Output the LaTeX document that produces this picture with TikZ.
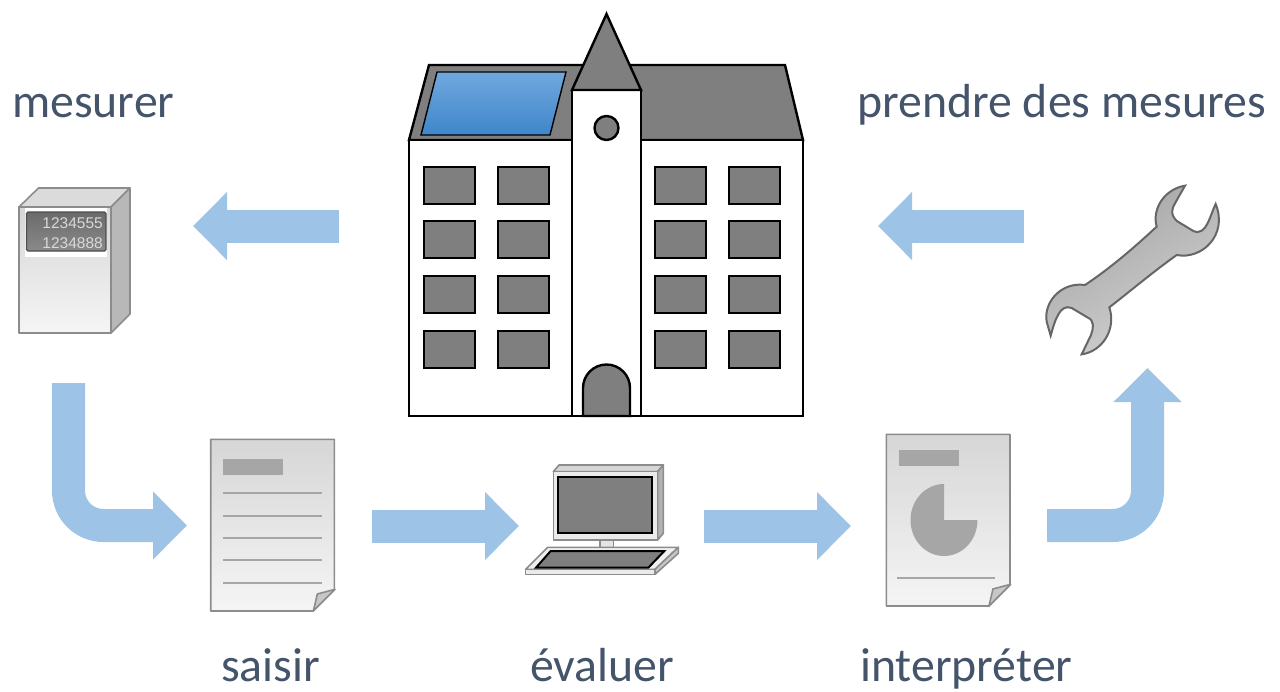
\documentclass[tikz,border=0pt]{standalone}
\usepackage{fontspec}
\setmainfont{Carlito}
\newfontfamily\digitfont{Liberation Sans}
\usetikzlibrary{arrows.meta}
\definecolor{flowblue}{HTML}{9DC3E6}
\definecolor{labelblue}{HTML}{44546A}
\definecolor{roofgrey}{HTML}{7F7F7F}
\definecolor{inkgrey}{HTML}{A6A6A6}
\definecolor{edgegrey}{HTML}{8C8C8C}
\definecolor{panelhigh}{HTML}{70A8DE}
\definecolor{panellow}{HTML}{3F86CB}
\tikzset{
  flow/.style={draw=flowblue, line width=33pt, rounded corners=35pt,
    -{Triangle[length=34pt,width=66pt]}},
  caption/.style={anchor=base west, text=labelblue, font=\fontsize{47.8}{54}\selectfont, inner sep=0pt},
  wall/.style={draw=black, line width=2.4pt, line join=miter},
  window/.style={wall, fill=roofgrey},
  device/.style={draw=edgegrey, line width=1.6pt, line join=round},
  digits/.style={anchor=east, text=black!15, inner sep=0pt, font=\digitfont\fontsize{15.5}{16}\selectfont},
  doc page/.pic={
    \draw[device, top color=black!16, bottom color=black!4]
      (0,0) -- (371,0) -- (371,452) -- (308,515) -- (0,515) -- cycle;
    \draw[device, fill=black!22] (308,515) -- (320,464) -- (373,450) -- cycle;
  }
}
\begin{document}
\begin{tikzpicture}[x=1pt,y=-1pt]
  \useasboundingbox (0,0) rectangle (1280,691);
  % labels
  \node[caption] (mesurer) at (12,117) {mesurer};
  \node[caption] (mesures) at (857,117) {prendre des mesures};
  \node[caption] (saisir) at (221,681) {saisir};
  \node[caption] (evaluer) at (530,681) {évaluer};
  \node[caption] (interpreter) at (860,681) {interpréter};
  % flow arrows
  \coordinate (building in) at (339,226);
  \coordinate (meter in) at (193,226);
  \coordinate (meter out) at (68.5,383);
  \coordinate (sheet in) at (187,525.5);
  \coordinate (sheet out) at (372,526);
  \coordinate (computer in) at (519,526);
  \coordinate (computer out) at (704,526);
  \coordinate (report in) at (851,526);
  \coordinate (report out) at (1047,525.5);
  \coordinate (wrench in) at (1147.5,368);
  \coordinate (wrench out) at (1024,226);
  \coordinate (building out) at (878,226);
  \draw[flow] (building in) -- (meter in);
  \draw[flow] (meter out) |- (sheet in);
  \draw[flow] (sheet out) -- (computer in);
  \draw[flow] (computer out) -- (report in);
  \draw[flow] (report out) -| (wrench in);
  \draw[flow] (wrench out) -- (building out);
  % building
  \draw[wall, fill=roofgrey] (409,140) -- (429,65) -- (785,65) -- (803,140) -- cycle;
  \draw[draw=black, line width=1.4pt, top color=panelhigh, bottom color=panellow]
    (421,135) -- (437,72) -- (566,72) -- (550,135) -- cycle;
  \draw[wall, fill=white] (409,140) rectangle (803,416);
  \foreach \x in {424,498,655,729} {
    \foreach \y in {167,221,276,331} {
      \draw[window] (\x,\y) rectangle ++(51,37);
    }
  }
  \draw[wall, fill=white] (572,90) rectangle (641,416);
  \draw[wall, fill=roofgrey] (572,90) -- (606.5,14) -- (641,90) -- cycle;
  \draw[wall, fill=roofgrey] (606.5,128) circle[radius=12];
  \draw[wall, fill=roofgrey] (583,416) -- (583,388) arc[start angle=180, end angle=360, radius=23.5] -- (630,416) -- cycle;
  % meter
  \draw[device, fill=black!14] (19,207) -- (38.5,188) -- (130,188) -- (111,207) -- cycle;
  \draw[device, fill=black!28] (111,207) -- (130,188) -- (130,314) -- (111,333) -- cycle;
  \draw[device, top color=black!16, bottom color=black!4] (19,207) rectangle (111,333);
  \fill[white] (25,208) rectangle (107,257);
  \draw[draw=black!70, line width=1.4pt, rounded corners=1.5pt, top color=black!58, bottom color=black!46] (26.5,212) rectangle (106,251);
  \node[digits] (upper count) at (103,223) {1234555};
  \node[digits] (lower count) at (103,243) {1234888};
  % pages
  \pic[scale=1/3] at (210.7,439.3) {doc page};
  \fill[inkgrey] (223,459) rectangle (283,475);
  \foreach \y in {493,516,538,560,583} {
    \draw[inkgrey, line width=2.4pt] (223,\y) -- (322,\y);
  }
  \pic[scale=1/3] at (886.3,434.3) {doc page};
  \fill[inkgrey] (899,449.5) rectangle (959,465.5);
  \fill[inkgrey] (944,520) -- (944,484) arc[start angle=-90, end angle=-360, x radius=33.5, y radius=36] -- cycle;
  \draw[inkgrey, line width=2.4pt] (897,578) -- (995,578);
  % computer
  \begin{scope}[shift={(510,450)},scale=1/3]
    \draw[device, fill=black!16] (130,65) -- (147,45) -- (460,45) -- (443,65) -- cycle;
    \draw[device, fill=black!30] (443,65) -- (460,45) -- (460,250) -- (443,270) -- cycle;
    \draw[device, fill=black!8] (130,65) rectangle (443,270);
    \draw[draw=black, line width=2pt, fill=roofgrey] (145,80) rectangle (425,250);
    \draw[device, fill=black!10] (270,270) rectangle (310,292);
    \draw[device, fill=black!6] (47,358) -- (113,292) -- (505,292) -- (435,358) -- cycle;
    \draw[device, fill=black!8] (47,358) rectangle (435,373);
    \draw[device, fill=black!22] (435,358) -- (505,292) -- (505,310) -- (435,373) -- cycle;
    \draw[draw=black, line width=2pt, fill=roofgrey] (78,353) -- (122,303) -- (463,303) -- (415,353) -- cycle;
  \end{scope}
  % wrench
  \begin{scope}[shift={(1030,170)},scale=1/3]
    \draw[draw=black!60, line width=2pt, left color=black!36, right color=black!17, shading angle=30]
      (465,47) .. controls (405,57) and (365,115) .. (380,170)
      .. controls (310,235) and (240,295) .. (165,345)
      .. controls (95,335) and (40,395) .. (50,455)
      -- (62,497)
      .. controls (75,450) and (90,400) .. (125,414)
      -- (172,442)
      .. controls (195,452) and (190,475) .. (183,495)
      -- (155,553)
      .. controls (215,545) and (260,480) .. (238,412)
      .. controls (305,360) and (370,305) .. (440,255)
      .. controls (515,270) and (595,195) .. (557,102)
      .. controls (540,135) and (530,200) .. (490,183)
      -- (442,154)
      .. controls (420,135) and (425,115) .. (435,100)
      -- cycle;
  \end{scope}
\end{tikzpicture}
\end{document}
